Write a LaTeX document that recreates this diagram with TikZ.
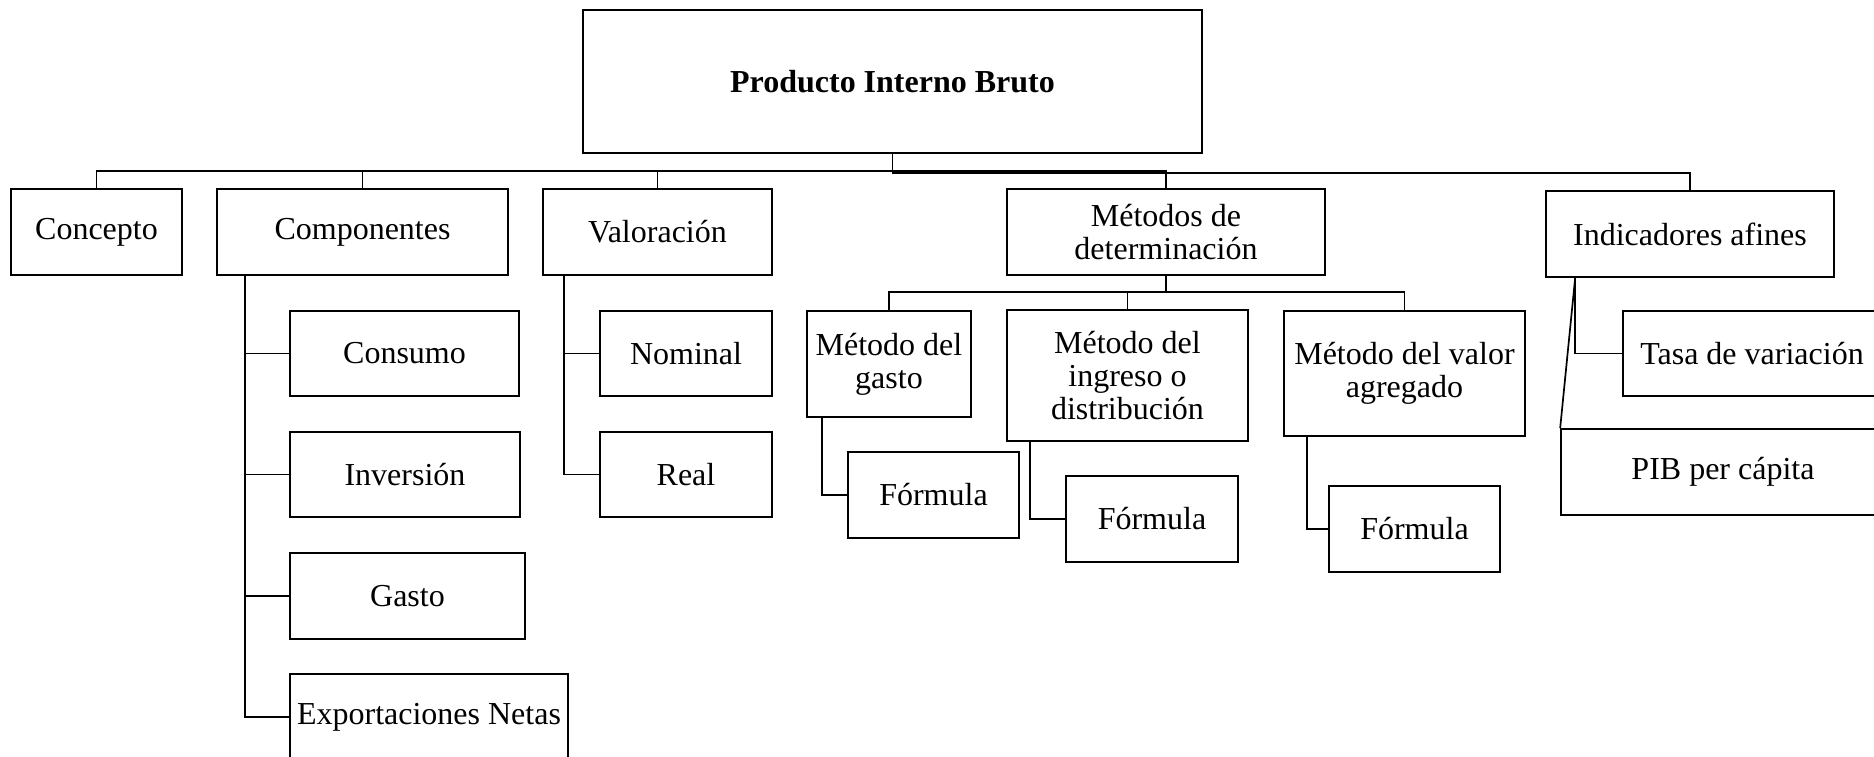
\documentclass[tikz,border=0pt]{standalone}
\usepackage{fontspec}
\setmainfont{Liberation Serif}
\usepackage{tikz}

\begin{document}
\begin{tikzpicture}[x=0.5pt,y=-0.5pt,
        caja/.style={draw,line width=0.85pt,inner sep=0pt,align=center,
            font=\fontsize{16}{16.5}\selectfont,minimum height=43pt},
        linea/.style={line width=0.85pt}]
        \useasboundingbox (0,0) rectangle (1874,756);
        \node[caja,minimum width=309.5pt,minimum height=71.5pt,font=\fontsize{16}{16.5}\selectfont\bfseries] (pib) at (892.5,81.5) {Producto Interno Bruto};
        \node[caja,minimum width=85.5pt] (concepto) at (96.5,232) {Concepto};
        \node[caja,minimum width=145.5pt] (componentes) at (362.5,232) {Componentes};
        \node[caja,minimum width=114.5pt] (valoracion) at (657.5,232) {Valoración};
        \node[caja,minimum width=159pt] (metodos) at (1166,232) {Métodos de\\determinación};
        \node[caja,minimum width=144pt] (indicadores) at (1690,234) {Indicadores afines};
        \node[caja,minimum width=114.5pt,minimum height=42.5pt] (consumo) at (404.5,353.5) {Consumo};
        \node[caja,minimum width=115pt,minimum height=42.5pt] (inversion) at (405,474.5) {Inversión};
        \node[caja,minimum width=117.5pt] (gasto) at (407.5,596) {Gasto};
        \node[caja,minimum width=139pt] (exportaciones) at (429,717) {Exportaciones Netas};
        \node[caja,minimum width=86pt,minimum height=42.5pt] (nominal) at (686,353.5) {Nominal};
        \node[caja,minimum width=86pt,minimum height=42.5pt] (real) at (686,474.5) {Real};
        \node[caja,minimum width=82pt,minimum height=53pt] (mgasto) at (889,364) {Método del\\gasto};
        \node[caja,minimum width=85.5pt] (formulaa) at (933.5,495) {Fórmula};
        \node[caja,minimum width=120.5pt,minimum height=65.5pt] (mingreso) at (1127.5,375.5) {Método del\\ingreso o\\distribución};
        \node[caja,minimum width=86pt] (formulab) at (1152,519) {Fórmula};
        \node[caja,minimum width=120.5pt,minimum height=62.5pt] (mvalor) at (1404.5,373.5) {Método del valor\\agregado};
        \node[caja,minimum width=85.5pt] (formulac) at (1414.5,529) {Fórmula};
        \node[caja,minimum width=129pt,minimum height=42.5pt] (tasa) at (1752,353.5) {Tasa de variación};
        \node[caja,minimum width=162pt] (percapita) at (1723,472) {PIB per cápita};
        \coordinate (busa) at (0,171);
        \coordinate (busb) at (0,173);
        \coordinate (busc) at (0,292);
        \coordinate (ejecomp) at ([xshift=14.5pt]componentes.south west);
        \coordinate (ejeval) at ([xshift=11pt]valoracion.south west);
        \coordinate (ejegasto) at ([xshift=8pt]mgasto.south west);
        \coordinate (ejeingreso) at ([xshift=12pt]mingreso.south west);
        \coordinate (ejevalor) at ([xshift=12pt]mvalor.south west);
        \coordinate (ejeind) at ([xshift=15pt]indicadores.south west);
        \draw[linea] (concepto.north) |- (metodos.north |- busa) -- (metodos.north);
        \draw[linea] (componentes.north) -- (componentes.north |- busa);
        \draw[linea] (valoracion.north) -- (valoracion.north |- busa);
        \draw[linea] (pib.south) |- (indicadores.north |- busb) -- (indicadores.north);
        \draw[linea] (ejecomp) |- (exportaciones.west);
        \draw[linea] (ejecomp |- consumo.west) -- (consumo.west);
        \draw[linea] (ejecomp |- inversion.west) -- (inversion.west);
        \draw[linea] (ejecomp |- gasto.west) -- (gasto.west);
        \draw[linea] (ejeval) |- (real.west);
        \draw[linea] (ejeval |- nominal.west) -- (nominal.west);
        \draw[linea] (metodos.south) -- (metodos.south |- busc);
        \draw[linea] (mgasto.north) |- (mvalor.north |- busc) -- (mvalor.north);
        \draw[linea] (mingreso.north) -- (mingreso.north |- busc);
        \draw[linea] (ejegasto) |- (formulaa.west);
        \draw[linea] (ejeingreso) |- (formulab.west);
        \draw[linea] (ejevalor) |- (formulac.west);
        \draw[linea] (ejeind) |- (tasa.west);
        \draw[linea] (ejeind) -- (percapita.north west);
\end{tikzpicture}
\end{document}
